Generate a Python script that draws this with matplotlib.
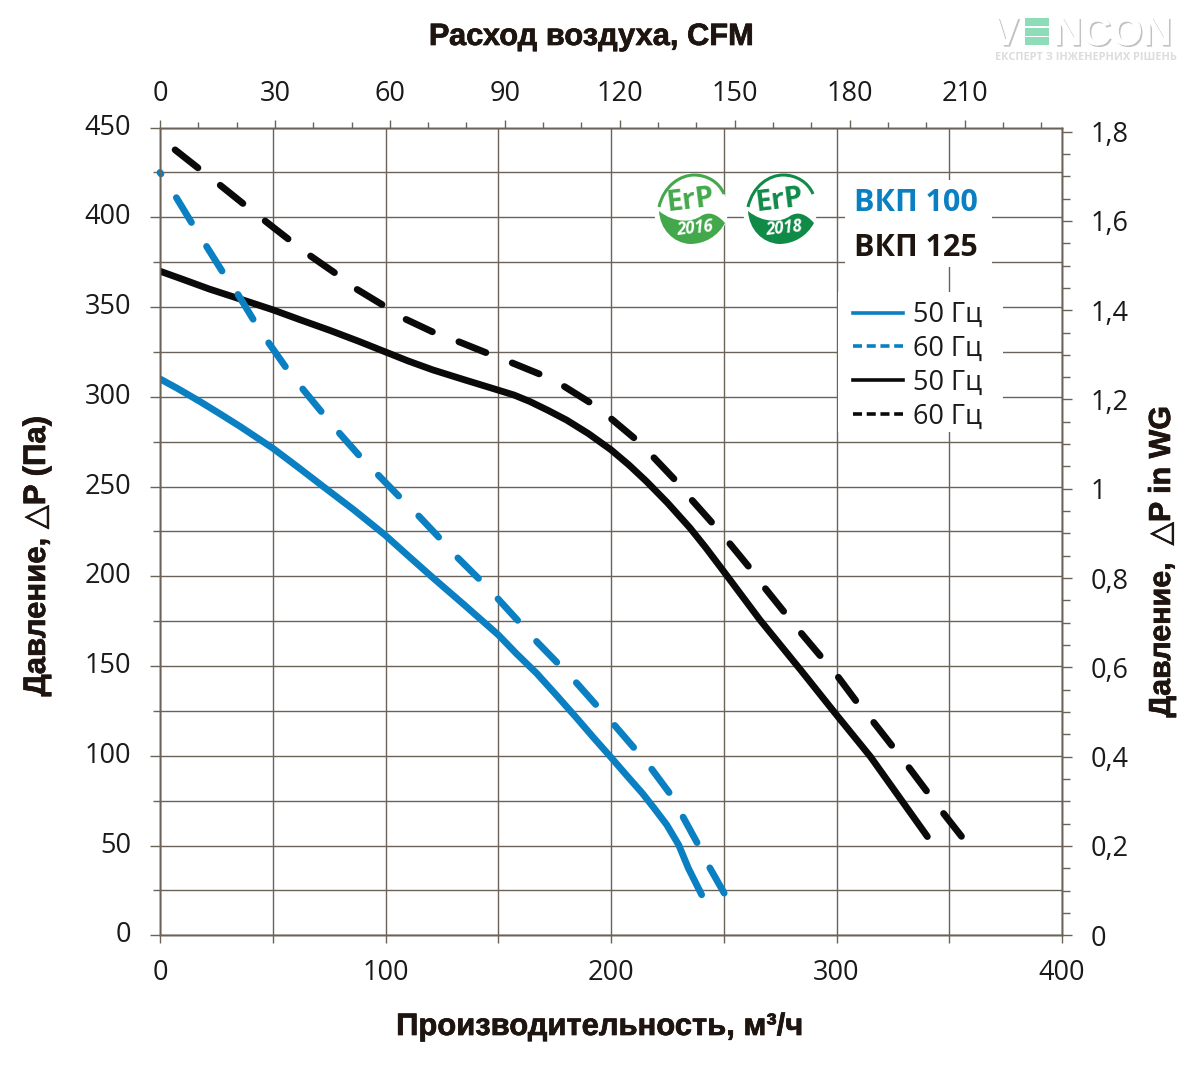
import matplotlib
matplotlib.use("Agg")
import matplotlib.pyplot as plt
import matplotlib.patheffects as pe
from matplotlib.lines import Line2D
from matplotlib.patches import Circle, PathPatch, Rectangle
from matplotlib.path import Path
from matplotlib.transforms import Affine2D

# Curves: flow in m3/h, pressure in Pa
vkp100_50_x = [0, 8, 17.7, 26, 35.5, 50, 61, 72.4, 86, 99.8, 110, 121.2, 135, 150, 158, 167, 176, 184.8, 192, 200.3,
               207, 214, 219, 224.7, 230, 234.3, 240.2]
vkp100_50_y = [310, 304.5, 297.4, 291, 283.5, 271.4, 261, 250, 237, 223, 211.5, 199, 184, 167.4, 157, 146, 133.5,
               121, 110.5, 98.7, 89, 79, 71, 61.6, 50.4, 37.4, 22.6]

vkp100_60_x = [0, 7.4, 14.3, 20.7, 27.8, 34.7, 41.4, 48.5, 55.9, 63.6, 71.7, 79.8, 88.7, 97.1, 106.4, 115,
               124.2, 132.3, 141.9, 150, 159.3, 167.3, 176.6, 184.8, 194, 201.8, 210.7, 218.3, 226.2, 232,
               238.7, 243.9, 250.6]
vkp100_60_y = [425, 410.7, 396.4, 383.7, 369.5, 356.8, 343, 329.5, 316.3, 303.9, 291.5, 279.4, 266.8, 256, 244,
               233.3, 221, 210, 198, 187.3, 174.5, 163.3, 151.3, 140.5, 127.5, 116.7, 103.7, 92.2, 78.8, 65.8,
               50.4, 37.4, 22.6]

vkp125_50_x = [0, 10, 22, 35.5, 50, 62, 75.4, 88, 100, 110, 121, 135, 149.3, 157, 164, 172, 180.4, 190, 200, 208,
               215.8, 225, 235, 242, 250, 266, 284, 300, 315, 340.3]
vkp125_50_y = [370, 365.5, 360, 354.5, 348.5, 343, 337, 331, 325, 320, 315, 309.5, 304, 301, 297.4, 292.5, 287,
               279.5, 270.5, 262, 252.8, 241, 227, 216, 202.7, 175.8, 148, 122.8, 99.6, 55]

vkp125_60_x = [6.7, 17, 26.6, 37, 46.6, 57.4, 66.5, 77.6, 87.2, 99, 108.7, 121.2, 132.3, 145, 156, 168.5, 179,
               190.7, 199.9, 210.7, 218.8, 228.4, 235.8, 245, 252.5, 261.4, 268.3, 277.2, 284.3, 300.8, 309,
               316.4, 325, 332, 340.3, 347.4, 355.5]
vkp125_60_y = [437.6, 427.4, 418, 407.5, 398, 387.4, 378.7, 369, 360, 351, 343.4, 336, 330.8, 324.4, 319, 312.6,
               306, 296.8, 288, 276.6, 266.4, 253.7, 242.6, 229.6, 218.5, 204.9, 193.4, 179.5, 168.4, 143.8,
               130, 118.8, 105, 93.7, 79.8, 68, 55]

# Axis ticks
flow_major = [0, 100, 200, 300, 400]
flow_minor = [50, 150, 250, 350]
pa_major = [0, 50, 100, 150, 200, 250, 300, 350, 400, 450]
pa_minor = [25, 75, 125, 175, 225, 275, 325, 375, 425]
cfm_major = [0, 30, 60, 90, 120, 150, 180, 210]
cfm_minor = [10, 20, 40, 50, 70, 80, 100, 110, 130, 140, 160, 170, 190, 200, 220, 230]
wg_major = [0, 0.2, 0.4, 0.6, 0.8, 1, 1.2, 1.4, 1.6, 1.8]
wg_labels = ["0", "0,2", "0,4", "0,6", "0,8", "1", "1,2", "1,4", "1,6", "1,8"]
wg_minor = [0.05, 0.1, 0.15, 0.25, 0.3, 0.35, 0.45, 0.5, 0.55, 0.65, 0.7, 0.75, 0.85, 0.9, 0.95, 1.05, 1.1, 1.15,
            1.25, 1.3, 1.35, 1.45, 1.5, 1.55, 1.65, 1.7, 1.75]

BLUE = "#0a80c2"
BLACK = "#0a0a0a"
GRID = "#6b6358"
DARK = "#1e1410"
TICK_FONT = "Open Sans"
LABEL_FONT = ["Liberation Sans", "DejaVu Sans"]
HEAVY = [pe.withStroke(linewidth=0.5, foreground=DARK)]

W, H = 1200, 1065
fig = plt.figure(figsize=(W / 100, H / 100), dpi=100)
ax = fig.add_axes([160 / W, 1 - 935.3 / H, 902 / W, (935.3 - 127.6) / H])

# pixel coordinates of the picture (y down), for the logos and annotations
px = Affine2D().scale(1, -1).translate(0, H)

ax.set_xlim(0, 400)
ax.set_ylim(0, 450)
ax.set_xticks(flow_major)
ax.set_xticks(flow_minor, minor=True)
ax.set_yticks(pa_major)
ax.set_yticks(pa_minor, minor=True)
ax.grid(True, which="both", color=GRID, lw=1.0)
ax.set_axisbelow(True)

top = ax.twiny()
top.set_xlim(0, 400 / 1.699)
top.set_xticks(cfm_major)
top.set_xticks(cfm_minor, minor=True)

right = ax.twinx()
right.set_ylim(0, (935.3 - 127.6) / 446.5)
right.set_yticks(wg_major, wg_labels)
right.set_yticks(wg_minor, minor=True)

for a in (ax, top, right):
    for s in a.spines.values():
        s.set_color(GRID)
        s.set_linewidth(1.0)
    a.tick_params(which="both", color=GRID, width=1.0)
    for lab in a.get_xticklabels() + a.get_yticklabels():
        lab.set_fontfamily(TICK_FONT)
        lab.set_fontsize(19.5)
        lab.set_color("#1a1a1a")

ax.tick_params(axis="x", which="major", length=6, pad=11)
ax.tick_params(axis="x", which="minor", length=6)
ax.tick_params(axis="y", which="major", length=7, pad=14)
ax.tick_params(axis="y", which="minor", length=5)
top.tick_params(axis="x", which="major", length=6, pad=8)
top.tick_params(axis="x", which="minor", length=4)
right.tick_params(axis="y", which="major", length=7, pad=13.5)
right.tick_params(axis="y", which="minor", length=6)
# left scale labels sit a little above their ticks
for lab in ax.get_yticklabels():
    lab.set_verticalalignment("center")

# Curves
LW = 4.9
DASH = (4.27, 4.16)
ax.plot(vkp100_50_x, vkp100_50_y, color=BLUE, lw=LW, solid_capstyle="round", solid_joinstyle="round", zorder=3)
ax.plot(vkp125_50_x, vkp125_50_y, color=BLACK, lw=LW, solid_capstyle="round", solid_joinstyle="round", zorder=3)
ax.plot(vkp100_60_x, vkp100_60_y, color=BLUE, lw=LW, ls=(4.02, DASH), dash_capstyle="round", dash_joinstyle="round",
        zorder=3, clip_on=False)
ax.plot(vkp125_60_x, vkp125_60_y, color=BLACK, lw=LW, ls=(0, DASH), dash_capstyle="round", dash_joinstyle="round",
        zorder=3)

# White patches that interrupt the grid behind the annotations
for x0, y0, x1, y1 in [(845, 180, 992, 267), (838, 292, 1003, 432)]:
    ax.add_patch(Rectangle((x0, y0), x1 - x0, y1 - y0, fc="white", ec="none", transform=px, zorder=2, clip_on=False))

ax.text(854, 203, "ВКП 100", color=BLUE, family="Open Sans", weight="bold", fontsize=22, va="center",
        transform=px, zorder=5)
ax.text(854, 248, "ВКП 125", color=DARK, family="Open Sans", weight="bold", fontsize=22, va="center",
        transform=px, zorder=5)

handles = [
    Line2D([], [], color=BLUE, lw=2.6),
    Line2D([], [], color=BLUE, lw=2.6, ls=(0, (2.5, 1.3))),
    Line2D([], [], color=BLACK, lw=2.6),
    Line2D([], [], color=BLACK, lw=2.6, ls=(0, (2.5, 1.3))),
]
leg = ax.legend(handles, ["50 Гц", "60 Гц", "50 Гц", "60 Гц"], loc="upper left", frameon=False,
                bbox_to_anchor=(853 / W, 1 - 301 / H), bbox_transform=fig.transFigure, borderaxespad=0, borderpad=0,
                prop={"family": "Open Sans", "size": 19.5}, handlelength=1.85, handletextpad=0.37, labelspacing=0.215)
leg.set_zorder(5)
for t in leg.get_texts():
    t.set_color("#1a1a1a")


def erp_logo(cx, colour, year):
    ax.add_patch(Circle((cx, 210), 37, fc="white", ec="none", transform=px, zorder=2, clip_on=False))
    arc = Path([(cx - 32, 207), (cx - 27, 185), (cx - 10, 175), (cx + 3, 175), (cx + 16, 175), (cx + 28, 182),
                (cx + 33, 194)], [Path.MOVETO] + [Path.CURVE4] * 6)
    ax.add_patch(PathPatch(arc, fc="none", ec=colour, lw=2.2, transform=px, zorder=4, clip_on=False))
    leaf = Path([(cx - 32, 211), (cx - 16, 224), (cx + 2, 222), (cx + 10, 216), (cx + 18, 211), (cx + 26, 214),
                 (cx + 34, 223), (cx + 27, 236), (cx + 14, 244), (cx - 1, 244), (cx - 18, 243), (cx - 31, 229),
                 (cx - 32, 211)], [Path.MOVETO] + [Path.CURVE4] * 12)
    ax.add_patch(PathPatch(leaf, fc=colour, ec="none", transform=px, zorder=4, clip_on=False))
    ax.text(cx - 1, 201, "ErP", color=colour, family="Open Sans", weight="bold", fontsize=21, rotation=7,
            ha="center", va="center", transform=px, zorder=5)
    ax.text(cx + 4, 228, year, color="white", family="Open Sans", weight="bold", style="italic", fontsize=12,
            rotation=6, ha="center", va="center", transform=px, zorder=5)


erp_logo(691, "#43a84b", "2016")
erp_logo(780, "#0f8a47", "2018")

# Axis titles
fig.text(592 / W, 1 - 37 / H, "Расход воздуха, CFM", family=LABEL_FONT, weight="bold", fontsize=22.2, color=DARK,
         ha="center", va="center", path_effects=HEAVY)
fig.text(600 / W, 1 - 1027 / H, "Производительность, м³/ч", family=LABEL_FONT, weight="bold", fontsize=22.3,
         color=DARK, ha="center", va="center", path_effects=HEAVY)
fig.text(37 / W, 1 - 556 / H, "Давление, △P (Па)", family=LABEL_FONT, weight="bold", fontsize=22.4, color=DARK,
         rotation=90, ha="center", va="center", path_effects=HEAVY)
fig.text(1162 / W, 1 - 562 / H, "Давление,  △P in WG", family=LABEL_FONT, weight="bold", fontsize=21.9, color=DARK,
         rotation=90, ha="center", va="center", path_effects=HEAVY)

# Watermark
SHADOW = [pe.withSimplePatchShadow(offset=(1.2, -1.2), shadow_rgbFace="#a8a8a8", alpha=0.7), pe.Normal()]
fig.text(992 / W, 1 - 45 / H, "V", family="Liberation Sans", weight="bold", fontsize=29, color="white",
         va="baseline", path_effects=SHADOW)
fig.text(1053 / W, 1 - 45 / H, "NCON", family="Liberation Sans", weight="bold", fontsize=29, color="white",
         va="baseline", ha="left", path_effects=SHADOW)
for y0 in (18, 28, 37):
    ax.add_patch(Rectangle((1025, y0), 24, 8, fc="#8fdcb8", ec="none", transform=px, zorder=5, clip_on=False))
fig.text(995 / W, 1 - 57 / H, "ЕКСПЕРТ З ІНЖЕНЕРНИХ РІШЕНЬ", family="Open Sans", weight="bold", fontsize=7.8,
         color="#dcdcdc", va="center")

fig.savefig("out.png", dpi=100)
